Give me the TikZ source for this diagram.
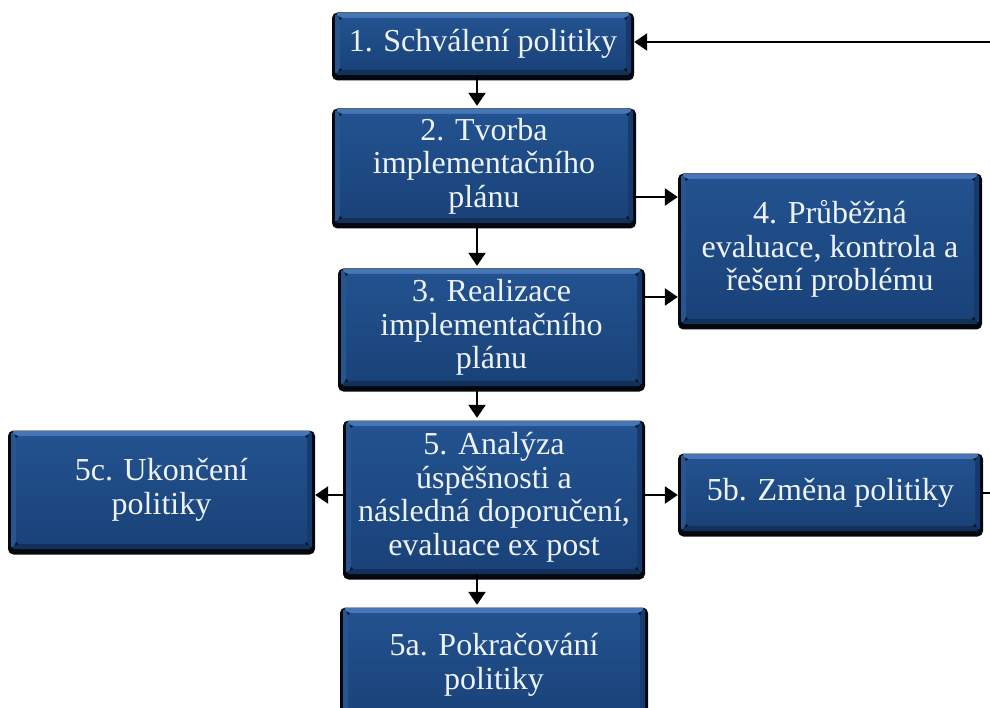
\documentclass[tikz,border=0pt]{standalone}
\usepackage{fontspec}
\setmainfont{Liberation Serif}
\usetikzlibrary{arrows.meta}

\definecolor{rimc}{HTML}{04080E}
\definecolor{bevT}{HTML}{4476B8}
\definecolor{bevL}{HTML}{26558F}
\definecolor{bevR}{HTML}{163A6E}
\definecolor{bevB}{HTML}{11305A}
\definecolor{faceT}{HTML}{22528F}
\definecolor{faceB}{HTML}{1A4279}
\definecolor{txtc}{HTML}{EEF3FA}

\newcommand\stepfont{\fontsize{32}{33.5}\selectfont}

\tikzset{
  stepbox/.style n args={2}{
    rectangle, rounded corners=3pt, inner sep=0pt,
    minimum width=#1pt, minimum height=#2pt,
    text=txtc, align=center, font=\stepfont,
    % dark rim, heavier at the bottom
    preaction={draw=rimc, fill=rimc, line width=6pt,
               transform canvas={yshift=-2.5pt}},
    % bevelled face
    path picture={
      \coordinate (A) at (path picture bounding box.north west);
      \coordinate (C) at (path picture bounding box.south east);
      \coordinate (B) at (A -| C);
      \coordinate (D) at (A |- C);
      \coordinate (a) at ([shift={(5pt,-5pt)}]A);
      \coordinate (b) at ([shift={(-5pt,-5pt)}]B);
      \coordinate (c) at ([shift={(-5pt,5pt)}]C);
      \coordinate (d) at ([shift={(5pt,5pt)}]D);
      \fill[bevL] (A) -- (a) -- (d) -- (D) -- cycle;
      \fill[bevT] (A) -- (B) -- (b) -- (a) -- cycle;
      \fill[bevR] (B) -- (C) -- (c) -- (b) -- cycle;
      \fill[bevB] (D) -- (d) -- (c) -- (C) -- cycle;
      \shade[top color=faceT, bottom color=faceB] (a) rectangle (c);
    }
  },
  conn/.style={line width=2.5pt, draw=black,
    -{Triangle[length=13pt,width=17pt]}, shorten >=3pt}
}

\begin{document}
\begin{tikzpicture}[x=1pt,y=-1pt]
\useasboundingbox (0,0) rectangle (990,708);
\clip (0,0) rectangle (990,708);
\fill[white] (0,0) rectangle (990,708);

% process steps
\node[stepbox={296}{62}]  (b1)  at (483,44)    {1. Schválení politiky};
\node[stepbox={298}{114}] (b2)  at (484,166)   {2. Tvorba\\implementačního\\plánu};
\node[stepbox={301}{117}] (b3)  at (491.5,327.5) {3. Realizace\\implementačního\\plánu};
\node[stepbox={298}{150}] (b4)  at (830,249)   {4. Průběžná\\evaluace, kontrola a\\řešení problému};
\node[stepbox={296}{153}] (b5)  at (494,497.5) {5. Analýza\\úspěšnosti a\\následná doporučení,\\evaluace ex post};
\node[stepbox={301}{118}] (b5c) at (161.5,490) {5c. Ukončení\\politiky};
\node[stepbox={299}{77}]  (b5b) at (830.5,492.5) {5b. Změna politiky};
\node[stepbox={302}{114}] (b5a) at (494,665)   {5a. Pokračování\\politiky};

% guide lines for the connectors
\coordinate (spine) at (477,0);
\coordinate (r24) at (0,197);
\coordinate (r34) at (0,297);
\coordinate (r5)  at (0,495);
\coordinate (rin) at (0,42);
\coordinate (rout) at (0,493);
\coordinate (loopB) at (1010,493);
\coordinate (loopT) at (1010,42);

% main flow
\draw[conn] (b1.south -| spine) -- (b2.north -| spine);
\draw[conn] (b2.south -| spine) -- (b3.north -| spine);
\draw[conn] (b3.south -| spine) -- (b5.north -| spine);
\draw[conn] (b5.south -| spine) -- (b5a.north -| spine);

% side branches
\draw[conn] (b2.east |- r24) -- (b4.west |- r24);
\draw[conn] (b3.east |- r34) -- (b4.west |- r34);
\draw[conn] (b5.west |- r5) -- (b5c.east |- r5);
\draw[conn] (b5.east |- r5) -- (b5b.west |- r5);

% feedback from the policy change back to approval
\draw[conn] (b5b.east |- rout) -- (loopB) -- (loopT) -- (b1.east |- rin);
\end{tikzpicture}
\end{document}
